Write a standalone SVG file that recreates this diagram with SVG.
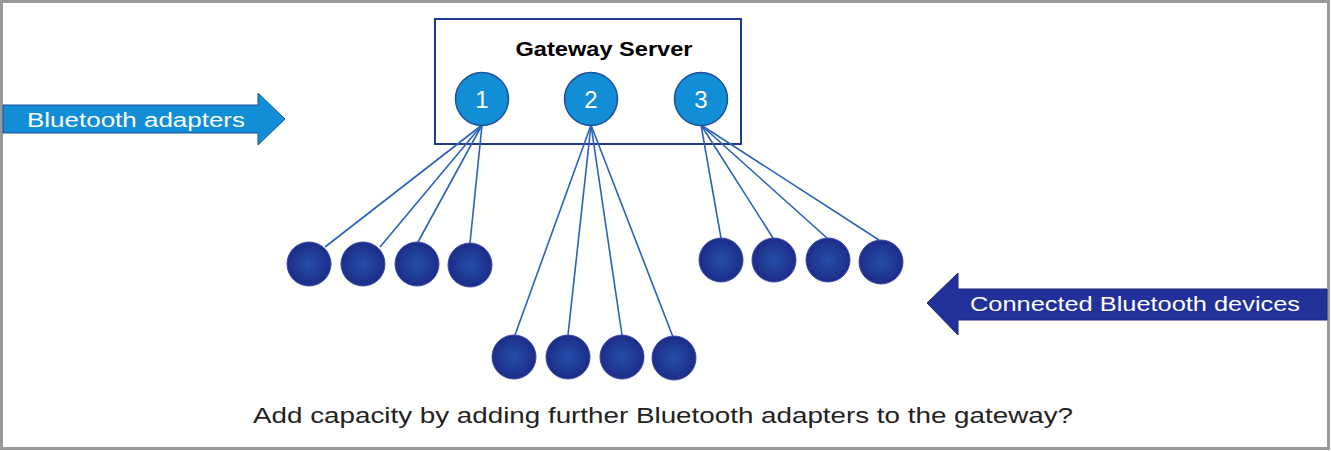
<svg xmlns="http://www.w3.org/2000/svg" width="1331" height="451" viewBox="0 0 1331 451">
<style>
.frame{fill:#fff;stroke:#9a9a9a;stroke-width:3}
.box{fill:none;stroke:#1f3a8a;stroke-width:2}
.adapter{fill:#118ed6;stroke:#1f4f9a;stroke-width:1.5}
.device{fill:url(#dev);stroke:#3a4aa8;stroke-width:1}
.link{stroke:#2a62b8;stroke-width:1.6;fill:none}
.lbl{font-family:"Liberation Sans",Arial,sans-serif}
.num{font-family:"Liberation Sans",Arial,sans-serif;font-size:24px;fill:#fff;text-anchor:middle}
</style>
<defs>
<radialGradient id="dev" cx="50%" cy="50%" r="50%">
<stop offset="0" stop-color="#2450a8"/>
<stop offset="1" stop-color="#1c2c88"/>
</radialGradient>
</defs>
<rect class="frame" x="1.5" y="1.5" width="1327" height="447"/>

<g id="gateway">
<rect class="box" x="435" y="19" width="306" height="125"/>
<text class="lbl" x="604" y="56" font-size="20" font-weight="bold" fill="#000" text-anchor="middle" textLength="177" lengthAdjust="spacingAndGlyphs">Gateway Server</text>
</g>

<g id="connectors">
<line class="link" x1="482" y1="125" x2="325" y2="247"/>
<line class="link" x1="482" y1="125" x2="380" y2="247"/>
<line class="link" x1="482" y1="125" x2="418" y2="242"/>
<line class="link" x1="482" y1="125" x2="470" y2="243"/>
<line class="link" x1="591" y1="125" x2="515" y2="335"/>
<line class="link" x1="591" y1="125" x2="568" y2="335"/>
<line class="link" x1="591" y1="125" x2="622" y2="335"/>
<line class="link" x1="591" y1="125" x2="673" y2="337"/>
<line class="link" x1="701" y1="125" x2="721" y2="238"/>
<line class="link" x1="701" y1="125" x2="773" y2="238"/>
<line class="link" x1="701" y1="125" x2="827" y2="238"/>
<line class="link" x1="701" y1="125" x2="879" y2="240"/>
</g>

<g id="adapter1"><circle class="adapter" cx="482" cy="99" r="26.5"/><text class="num" x="482" y="108">1</text></g>
<g id="adapter2"><circle class="adapter" cx="591" cy="99" r="26.5"/><text class="num" x="591" y="108">2</text></g>
<g id="adapter3"><circle class="adapter" cx="701" cy="99" r="26.5"/><text class="num" x="701" y="108">3</text></g>

<g id="dev1a"><circle class="device" cx="309" cy="264" r="22"/></g>
<g id="dev1b"><circle class="device" cx="363" cy="264" r="22"/></g>
<g id="dev1c"><circle class="device" cx="417" cy="264" r="22"/></g>
<g id="dev1d"><circle class="device" cx="470" cy="265" r="22"/></g>

<g id="dev2a"><circle class="device" cx="514" cy="357" r="22"/></g>
<g id="dev2b"><circle class="device" cx="568" cy="357" r="22"/></g>
<g id="dev2c"><circle class="device" cx="622" cy="357" r="22"/></g>
<g id="dev2d"><circle class="device" cx="674" cy="358" r="22"/></g>

<g id="dev3a"><circle class="device" cx="721" cy="260" r="22"/></g>
<g id="dev3b"><circle class="device" cx="774" cy="260" r="22"/></g>
<g id="dev3c"><circle class="device" cx="828" cy="260" r="22"/></g>
<g id="dev3d"><circle class="device" cx="881" cy="262" r="22"/></g>

<g id="label-adapters">
<polygon points="3,105 258,105 258,93 285,119 258,145 258,133 3,133" fill="#118ed6" stroke="#1f4f9a" stroke-width="1"/>
<text class="lbl" x="27" y="127" font-size="20" fill="#fff" textLength="218" lengthAdjust="spacingAndGlyphs">Bluetooth adapters</text>
</g>

<g id="label-devices">
<polygon points="1327,289 958,289 958,273 927,303 958,335 958,320 1327,320" fill="#22319a" stroke="#1a267a" stroke-width="1"/>
<text class="lbl" x="970" y="311" font-size="20" fill="#fff" textLength="330" lengthAdjust="spacingAndGlyphs">Connected Bluetooth devices</text>
</g>

<g id="caption">
<text class="lbl" x="253" y="423" font-size="22" fill="#222" textLength="820" lengthAdjust="spacingAndGlyphs">Add capacity by adding further Bluetooth adapters to the gateway?</text>
</g>
</svg>
